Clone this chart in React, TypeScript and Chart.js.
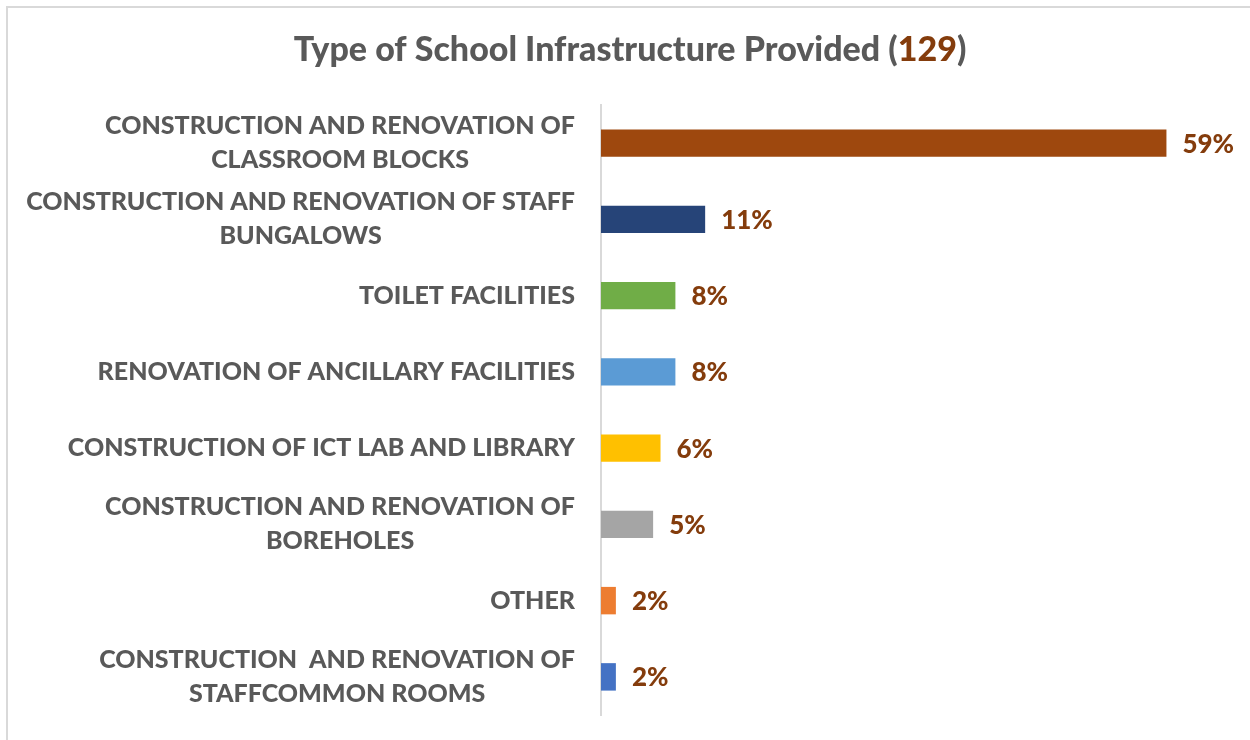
import React, { useEffect, useRef } from "react";
import { Chart, registerables } from "chart.js";

Chart.register(...registerables);

const categories: string[][] = [
  ["CONSTRUCTION AND RENOVATION OF", "CLASSROOM BLOCKS"],
  ["CONSTRUCTION AND RENOVATION OF STAFF", "BUNGALOWS"],
  ["TOILET FACILITIES"],
  ["RENOVATION OF ANCILLARY FACILITIES"],
  ["CONSTRUCTION OF ICT LAB AND LIBRARY"],
  ["CONSTRUCTION AND RENOVATION OF", "BOREHOLES"],
  ["OTHER"],
  ["CONSTRUCTION  AND RENOVATION OF", "STAFFCOMMON ROOMS"],
];

const values: number[] = [58.9, 10.85, 7.75, 7.75, 6.2, 5.43, 1.55, 1.55];
const valueLabels: string[] = ["59%", "11%", "8%", "8%", "6%", "5%", "2%", "2%"];
const barColors: string[] = [
  "#9E480E",
  "#264478",
  "#70AD47",
  "#5B9BD5",
  "#FFC000",
  "#A5A5A5",
  "#ED7D31",
  "#4472C4",
];
const titleParts: string[] = ["Type of School Infrastructure Provided (", "129", ")"];

const FONT = "Lato, 'Open Sans', sans-serif";
const WEIGHT = "900";
const GRAY = "#595959";
const BROWN = "#843C0C";

export default function App() {
  const ref = useRef<HTMLCanvasElement | null>(null);

  useEffect(() => {
    if (!ref.current) return;

    const overlay = {
      id: "overlay",
      afterDraw(chart: any) {
        const ctx = chart.ctx;
        const yScale = chart.scales.y;
        // Title
        ctx.save();
        ctx.font = `${WEIGHT} 34px ${FONT}`;
        ctx.textBaseline = "alphabetic";
        ctx.textAlign = "left";
        const widths = titleParts.map((t) => ctx.measureText(t).width);
        const total = widths.reduce((a, b) => a + b, 0);
        let x = 630 - total / 2;
        const colors = [GRAY, BROWN, GRAY];
        titleParts.forEach((t, i) => {
          ctx.fillStyle = colors[i];
          ctx.fillText(t, x, 61);
          x += widths[i];
        });
        ctx.restore();

        // Category labels
        ctx.save();
        ctx.font = `${WEIGHT} 25px ${FONT}`;
        ctx.fillStyle = GRAY;
        ctx.textAlign = "center";
        ctx.textBaseline = "middle";
        const lh = 34;
        const right = chart.chartArea.left - 26;
        categories.forEach((lines, i) => {
          const yc = yScale.getPixelForTick(i);
          const bw = Math.max(...lines.map((l) => ctx.measureText(l).width));
          const cx = right - bw / 2;
          const y0 = yc - ((lines.length - 1) * lh) / 2;
          lines.forEach((l, j) => ctx.fillText(l, cx, y0 + j * lh));
        });
        ctx.restore();

        // Value labels
        ctx.save();
        ctx.font = `${WEIGHT} 26px ${FONT}`;
        ctx.fillStyle = BROWN;
        ctx.textAlign = "left";
        ctx.textBaseline = "middle";
        const meta = chart.getDatasetMeta(0);
        meta.data.forEach((el: any, i: number) => {
          ctx.fillText(valueLabels[i], el.x + 16, el.y + 1);
        });
        ctx.restore();
      },
    };

    const chart = new Chart(ref.current, {
      type: "bar",
      data: {
        labels: categories.map((c) => c.join(" ")),
        datasets: [
          {
            data: values,
            backgroundColor: barColors,
            borderWidth: 0,
            categoryPercentage: 1,
            barPercentage: 0.36,
          },
        ],
      },
      options: {
        indexAxis: "y",
        responsive: false,
        animation: false,
        layout: { padding: { top: 105, bottom: 25, right: 25, left: 0 } },
        plugins: {
          legend: { display: false },
          title: { display: false },
          tooltip: { enabled: false },
        },
        scales: {
          x: { display: false, min: 0, max: 65 },
          y: {
            grid: { display: false },
            border: { display: true, color: "#D9D9D9", width: 2 },
            ticks: { display: false },
            afterFit(scale: any) {
              scale.width = 601;
            },
          },
        },
      },
      plugins: [overlay],
    });
    return () => chart.destroy();
  }, []);

  return (
    <div style={{ position: "fixed", left: 0, top: 0, width: 1250, height: 740, background: "#fff", overflow: "hidden" }}>
      <div
        style={{
          position: "absolute",
          left: 6,
          top: 6,
          width: 1300,
          height: 800,
          borderTop: "2px solid #D9D9D9",
          borderLeft: "2px solid #D9D9D9",
        }}
      />
      <canvas ref={ref} width={1250} height={740} style={{ position: "absolute", left: 0, top: 0 }} />
    </div>
  );
}
